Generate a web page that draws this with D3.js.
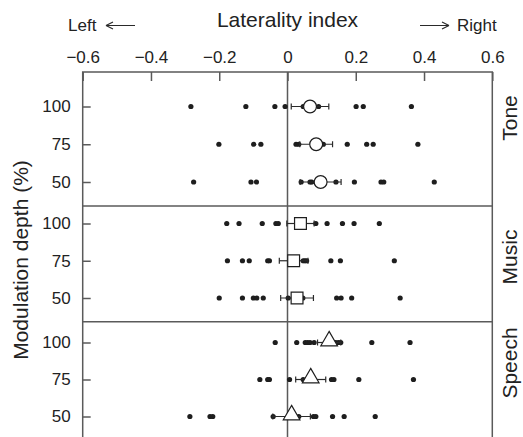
<!DOCTYPE html>
<html>
<head>
<meta charset="utf-8">
<title>Laterality index by modulation depth</title>
<script src="https://d3js.org/d3.v7.min.js"></script>
<style>
body { margin: 0; background: #fff; }
svg { display: block; font-family: "Liberation Sans", Arial, sans-serif; }
.frame { stroke: #5a5a5a; stroke-width: 1.5; fill: none; }
.tick-lbl { font-size: 17px; fill: #222; }
.title { font-size: 21px; fill: #222; }
.dot { fill: #1e1e1e; }
.err { stroke: #2a2a2a; stroke-width: 1.2; fill: none; }
.mean { fill: #fff; stroke: #1e1e1e; stroke-width: 1.2; }
</style>
</head>
<body>
<svg width="523" height="437"></svg>
<script>
// data
var categories = ["Tone", "Music", "Speech"];
var depths = [100, 75, 50];
var xTicks = [-0.6, -0.4, -0.2, 0, 0.2, 0.4, 0.6];

// individual subjects, one list per depth (100, 75, 50)
var toneDots = [
  [-0.283, -0.122, -0.037, -0.007, 0.046, 0.091, 0.201, 0.222, 0.363],
  [-0.201, -0.099, -0.078, 0.025, 0.033, 0.105, 0.175, 0.232, 0.251, 0.382],
  [-0.275, -0.107, -0.091, 0.040, 0.066, 0.071, 0.142, 0.196, 0.274, 0.282, 0.430]
];
var musicDots = [
  [-0.178, -0.142, -0.074, -0.034, -0.027, 0.083, 0.116, 0.161, 0.195, 0.269],
  [-0.176, -0.132, -0.112, -0.058, -0.053, 0.046, 0.051, 0.056, 0.127, 0.155, 0.313],
  [-0.200, -0.132, -0.100, -0.090, -0.071, 0.002, 0.045, 0.144, 0.157, 0.188, 0.330]
];
var speechDots = [
  [-0.036, 0.027, 0.052, 0.059, 0.066, 0.078, 0.141, 0.149, 0.156, 0.247, 0.359],
  [-0.081, -0.058, -0.053, 0.006, 0.046, 0.129, 0.136, 0.209, 0.369],
  [-0.286, -0.227, -0.219, -0.042, 0.033, 0.076, 0.083, 0.132, 0.166, 0.257]
];
// group means and error half-widths (100, 75, 50)
var toneMean = [0.066, 0.084, 0.097];
var toneErr = [0.055, 0.048, 0.060];
var musicMean = [0.038, 0.018, 0.028];
var musicErr = [0.040, 0.042, 0.048];
var speechMean = [0.122, 0.068, 0.012];
var speechErr = [0.034, 0.044, 0.055];

var groups = [
  {name: categories[0], dots: toneDots, mean: toneMean, err: toneErr, shape: d3.symbolCircle, size: 130},
  {name: categories[1], dots: musicDots, mean: musicMean, err: musicErr, shape: d3.symbolSquare, size: 140},
  {name: categories[2], dots: speechDots, mean: speechMean, err: speechErr, shape: d3.symbolTriangle, size: 120}
];

// layout
var svg = d3.select("svg");
var plotL = 82.7, plotR = 492.3, plotT = 72, plotB = 437;
var panels = [
  {top: 72, bottom: 206, r0: 106.5, r1: 182, label: 118},
  {top: 206, bottom: 321.7, r0: 223.5, r1: 298, label: 257},
  {top: 321.7, bottom: 437, r0: 342.5, r1: 416.5, label: 363}
];

var x = d3.scaleLinear().domain([-0.6, 0.6]).range([plotL, plotR]);

// top axis, ticks pointing inward
var xAxis = d3.axisTop(x).tickValues(xTicks).tickSizeInner(-9).tickSizeOuter(0).tickPadding(9)
  .tickFormat(function(d) { return d === 0 ? "0" : d3.format(".1f")(d).replace("-", "\u2212"); });
var gx = svg.append("g").attr("transform", "translate(0," + plotT + ")").call(xAxis);
gx.select(".domain").remove();
gx.selectAll("line").attr("stroke", "#5a5a5a").attr("stroke-width", 1.5);
gx.selectAll("text").attr("class", "tick-lbl").attr("font-family", null).attr("font-size", null).attr("fill", null);

// frame, zero line, panel separators
svg.append("path").attr("class", "frame")
  .attr("d", "M" + plotL + "," + plotB + "V" + plotT + "H" + plotR + "V" + plotB);
svg.append("line").attr("class", "frame")
  .attr("x1", x(0)).attr("x2", x(0)).attr("y1", plotT).attr("y2", plotB);
panels.slice(1).forEach(function(p) {
  svg.append("line").attr("class", "frame")
    .attr("x1", plotL).attr("x2", plotR).attr("y1", p.top).attr("y2", p.top);
});

groups.forEach(function(g, gi) {
  var p = panels[gi];
  var y = d3.scalePoint().domain(depths).range([p.r0, p.r1]);

  var ya = svg.append("g").attr("transform", "translate(" + plotL + ",0)")
    .call(d3.axisLeft(y).tickSizeInner(-8).tickSizeOuter(0).tickPadding(12));
  ya.select(".domain").remove();
  ya.selectAll("line").attr("stroke", "#5a5a5a").attr("stroke-width", 1.5);
  ya.selectAll("text").attr("class", "tick-lbl").attr("font-family", null).attr("font-size", null).attr("fill", null);

  depths.forEach(function(dep, di) {
    var cy = y(dep);
    svg.append("g").selectAll("circle").data(g.dots[di]).enter().append("circle")
      .attr("class", "dot").attr("cx", function(d) { return x(d); }).attr("cy", cy).attr("r", 2.6);

    var m = g.mean[di], e = g.err[di];
    var eg = svg.append("g").attr("class", "err");
    eg.append("line").attr("x1", x(m - e)).attr("x2", x(m + e)).attr("y1", cy).attr("y2", cy);
    [m - e, m + e].forEach(function(v) {
      eg.append("line").attr("x1", x(v)).attr("x2", x(v)).attr("y1", cy - 3).attr("y2", cy + 3);
    });
    svg.append("path").attr("class", "mean")
      .attr("d", d3.symbol().type(g.shape).size(g.size)())
      .attr("transform", "translate(" + x(m) + "," + (cy + (g.shape === d3.symbolTriangle ? -1.5 : 0)) + ")");
  });

  svg.append("text").attr("class", "title")
    .attr("transform", "translate(517," + p.label + ") rotate(-90)")
    .attr("text-anchor", "middle").attr("font-size", "20px").text(g.name);
});

// titles
svg.append("text").attr("class", "title").attr("x", x(0)).attr("y", 27)
  .attr("text-anchor", "middle").text("Laterality index");
svg.append("text").attr("class", "title")
  .attr("transform", "translate(28,260) rotate(-90)")
  .attr("text-anchor", "middle").text("Modulation depth (%)");

svg.append("text").attr("class", "tick-lbl").attr("x", 68).attr("y", 31).text("Left");
svg.append("text").attr("class", "tick-lbl").attr("x", 457).attr("y", 31).text("Right");

// direction arrows
var arrowY = 25.5;
svg.append("path").attr("class", "err").attr("stroke-width", 1.1)
  .attr("d", "M106," + arrowY + "H135M106," + arrowY + "l7,-3.5M106," + arrowY + "l7,3.5");
svg.append("path").attr("class", "err").attr("stroke-width", 1.1)
  .attr("d", "M420," + arrowY + "H449M449," + arrowY + "l-7,-3.5M449," + arrowY + "l-7,3.5");
</script>
</body>
</html>
